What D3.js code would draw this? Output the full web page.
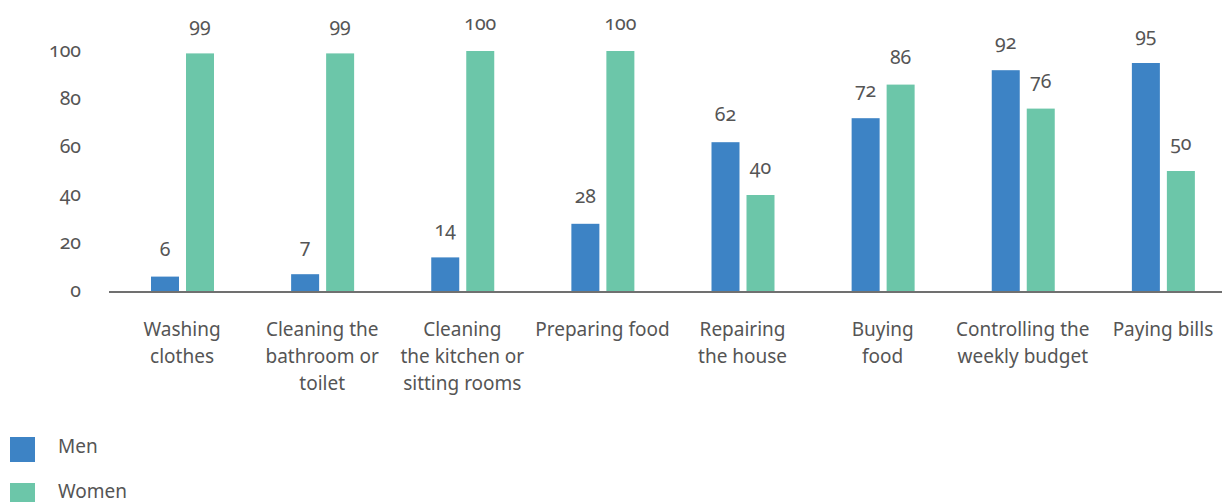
<!DOCTYPE html>
<html><head><meta charset="utf-8">
<script src="https://cdn.jsdelivr.net/npm/d3@7"></script>
<style>
body{margin:0;background:#fff;}
svg text{font-family:"Noto Sans",sans-serif;fill:#555;font-variant-numeric:oldstyle-nums;font-feature-settings:"onum" 1;}
</style></head>
<body><svg id="chart" width="1222" height="502"></svg>
<script>
const categories = [
  ["Washing","clothes"],
  ["Cleaning the","bathroom or","toilet"],
  ["Cleaning","the kitchen or","sitting rooms"],
  ["Preparing food"],
  ["Repairing","the house"],
  ["Buying","food"],
  ["Controlling the","weekly budget"],
  ["Paying bills"]
];
const menValues   = [6, 7, 14, 28, 62, 72, 92, 95];
const womenValues = [99, 99, 100, 100, 40, 86, 76, 50];
const seriesNames = ["Men", "Women"];
const seriesColors = ["#3d83c5", "#6cc6a9"];
const yTicks = [0, 20, 40, 60, 80, 100];

const svg = d3.select("#chart");
const W = 1222;
const idx = categories.map((d,i)=>i);
const x = d3.scaleBand().domain(idx).range([112, 1233]).paddingInner(0).paddingOuter(0);
const y = d3.scaleLinear().domain([0,100]).range([291, 51]);
const xs = d3.scaleBand().domain([0,1]).range([39, 102]).paddingInner(0.2).paddingOuter(0);

// y tick labels
const yAxis = d3.axisLeft(y).tickValues(yTicks).tickSize(0).tickPadding(0);
const ya = svg.append("g").attr("transform","translate(81,0)").call(yAxis);
ya.select(".domain").remove();
ya.selectAll("text").attr("font-size",19.5).attr("fill","#555").attr("font-family",null).attr("dy","0.3em");

// bars
const series = [menValues, womenValues];
series.forEach((vals, s) => {
  const g = svg.append("g");
  g.selectAll("rect").data(vals).join("rect")
    .attr("x",(d,i)=>x(i)+xs(s))
    .attr("width",xs.bandwidth())
    .attr("y",d=>y(d))
    .attr("height",d=>y(0)-y(d))
    .attr("fill",seriesColors[s]);
  g.selectAll("text").data(vals).join("text")
    .attr("x",(d,i)=>x(i)+xs(s)+xs.bandwidth()/2)
    .attr("y",d=>y(d)-21)
    .attr("text-anchor","middle")
    .attr("font-size",19.5)
    .text(d=>d);
});

// baseline
svg.append("line").attr("x1",109).attr("x2",W).attr("y1",y(0)+1).attr("y2",y(0)+1)
  .attr("stroke","#707070").attr("stroke-width",2);

// category labels
const cg = svg.append("g");
categories.forEach((lines,i)=>{
  const t = cg.append("text").attr("text-anchor","middle")
    .attr("x",x(i)+x.bandwidth()/2).attr("y",336).attr("font-size",19).attr("fill","#4a4a4a");
  lines.forEach((ln,j)=>{
    t.append("tspan").attr("x",x(i)+x.bandwidth()/2).attr("dy",j===0?0:27).text(ln);
  });
});

// legend
const lg = svg.append("g");
seriesNames.forEach((n,s)=>{
  lg.append("rect").attr("x",10).attr("y",437+s*46).attr("width",25).attr("height",25).attr("fill",seriesColors[s]);
  lg.append("text").attr("x",58).attr("y",453+s*45).attr("font-size",19).attr("fill","#4a4a4a").text(n);
});
</script></body></html>
